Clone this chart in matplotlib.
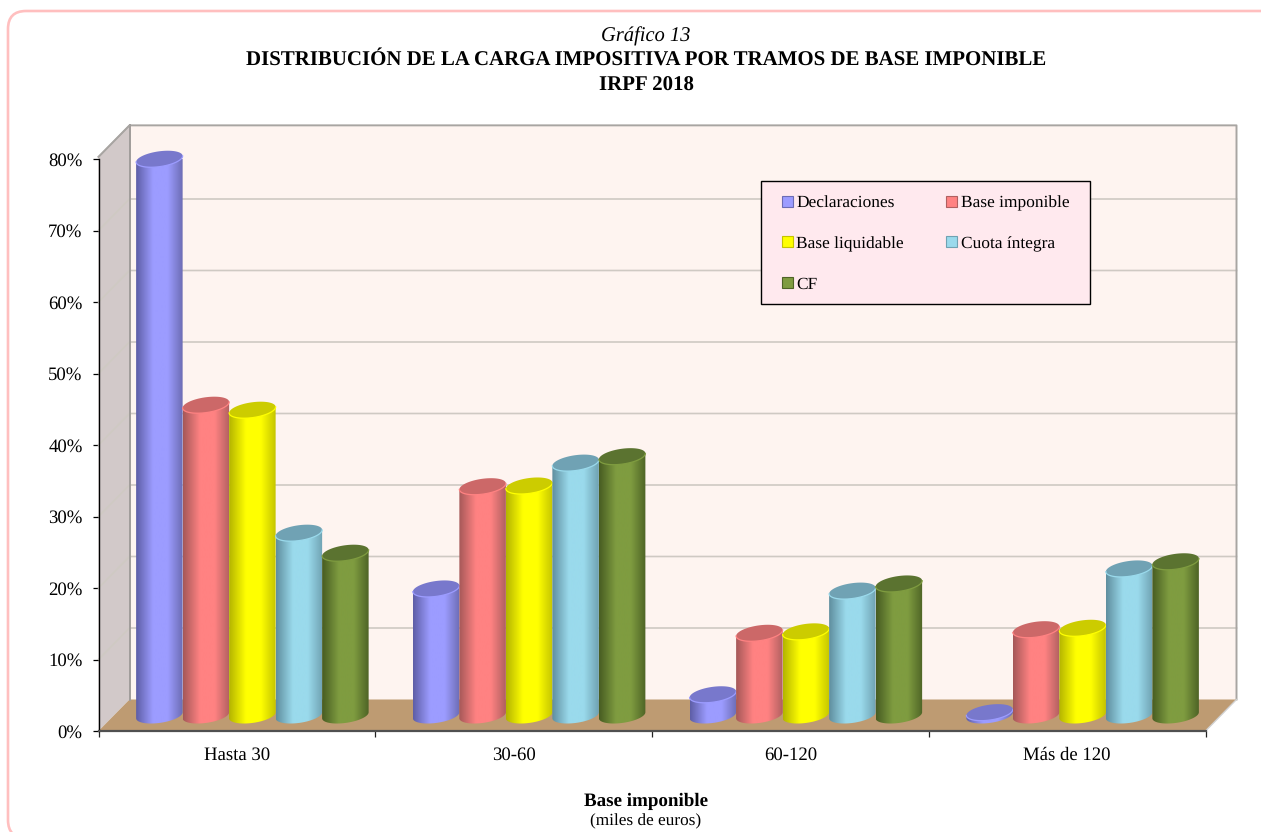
import matplotlib
matplotlib.use('Agg')
import matplotlib.pyplot as plt
import numpy as np
from matplotlib.colors import LinearSegmentedColormap
from matplotlib.patches import FancyBboxPatch, Patch, PathPatch, Polygon, Rectangle
from matplotlib.path import Path
from matplotlib.transforms import IdentityTransform

plt.rcParams['font.family'] = ['Liberation Serif', 'DejaVu Serif']
plt.rcParams['text.hinting'] = 'no_hinting'

# Datos
tramos = ['Hasta 30', '30-60', '60-120', 'Más de 120']
declaraciones = [77.8, 17.7, 2.9, 0.4]
base_imponible = [43.4, 32.0, 11.5, 12.0]
base_liquidable = [42.7, 32.1, 11.7, 12.2]
cuota_integra = [25.5, 35.3, 17.4, 20.5]
cf = [22.7, 36.2, 18.4, 21.5]
y_ticks = [0, 10, 20, 30, 40, 50, 60, 70, 80]
y_labels = ['0%', '10%', '20%', '30%', '40%', '50%', '60%', '70%', '80%']

series = [
    ('Declaraciones', declaraciones, '#5E5EA6', '#9C9CFF', '#6C6CB4', '#7878CC'),
    ('Base imponible', base_imponible, '#A55858', '#FF8282', '#B06060', '#CC6868'),
    ('Base liquidable', base_liquidable, '#B4B400', '#FFFF00', '#C4C400', '#CCCC00'),
    ('Cuota íntegra', cuota_integra, '#5F8E9E', '#9ADAEC', '#6FA2B2', '#70A2B4'),
    ('CF', cf, '#475C22', '#7F9C40', '#4E6426', '#5B7330'),
]

W, H = 1261, 832
fig = plt.figure(figsize=(W / 100, H / 100), dpi=100, facecolor='white')

# marco redondeado (se sale por la derecha y por abajo)
fig.add_artist(FancyBboxPatch((8, H - 838), 1280, 827, boxstyle='round,pad=0,rounding_size=18',
                              transform=IdentityTransform(), fc='none', ec='#FFBFBF', lw=1.9, zorder=-1))

# el eje coincide con el plano frontal del gráfico
x0, x1, y0, y1 = 98.5, 1205.5, 731.0, 159.0
ax = fig.add_axes([x0 / W, 1 - y0 / H, (x1 - x0) / W, (y0 - y1) / H])
ax.set_xlim(-0.5, 3.5)
ax.set_ylim(0, 80)
ax.patch.set_visible(False)

px_x = (x1 - x0) / 4
px_y = (y0 - y1) / 80
dx = 31 / px_x
dy = 31.5 / px_y
left, right, techo = -0.5, 3.5, 80.3

# paredes y suelo
ax.add_patch(Polygon([(left, 0), (left + dx, dy), (left + dx, techo + dy), (left, techo)],
                     fc='#D2C9C9', ec='none', clip_on=False, zorder=1))
ax.add_patch(Polygon([(left + dx, dy), (right + dx, dy), (right + dx, techo + dy), (left + dx, techo + dy)],
                     fc='#FEF4F0', ec='none', clip_on=False, zorder=1))
ax.add_patch(Polygon([(left, 0), (right, 0), (right + dx, dy), (left + dx, dy)],
                     fc='#BE9B72', ec='none', clip_on=False, zorder=1))
for v in y_ticks[1:-1]:
    ax.plot([left, left + dx, right + dx], [v, v + dy, v + dy], color='#CFC9C3', lw=1.2,
            clip_on=False, zorder=2)
ax.plot([left, left + dx, right + dx, right + dx], [techo, techo + dy, techo + dy, dy],
        color='#A8A5A2', lw=1.4, clip_on=False, zorder=2)
ax.plot([left + dx, left + dx], [dy, techo + dy], color='#A09C9A', lw=1.4, clip_on=False, zorder=2)
ax.plot([left, left + dx], [techo, techo + dy], color='#A8A5A2', lw=1.0, clip_on=False, zorder=2)
ax.plot([right, right + dx], [0, dy], color='#D0D0D0', lw=1.0, clip_on=False, zorder=2)

# cilindros
ancho = 46.5 / px_x
a = ancho / 2
b_px, k_px = 7.7, 3.0
base = dy / 2
t_low = np.linspace(np.pi, 2 * np.pi, 60)
t_full = np.linspace(0, 2 * np.pi, 120)


def elipse_y(yc, t):
    return yc + (b_px * np.sin(t) + k_px * np.cos(t)) / px_y


for s, (nombre, valores, oscuro, claro, oscuro2, tapa) in enumerate(series):
    cmap = LinearSegmentedColormap.from_list(nombre, [(0, oscuro), (0.36, claro), (0.68, claro), (1, oscuro2)])
    grad = np.linspace(0, 1, 128).reshape(1, -1)
    for i, v in enumerate(valores):
        xc = i + dx / 2 + (s - 2) * ancho
        yc = base + v
        xs = np.concatenate([xc + a * np.cos(t_low), [xc + a, xc - a, xc - a]])
        ys = np.concatenate([elipse_y(base, t_low), [elipse_y(yc, 0.0), elipse_y(yc, np.pi), elipse_y(base, np.pi)]])
        contorno = PathPatch(Path(np.column_stack([xs, ys])), fc='none', ec='none', transform=ax.transData)
        ax.add_patch(contorno)
        im = ax.imshow(grad, extent=[xc - a, xc + a, 0, 80], aspect='auto', cmap=cmap, zorder=3 + s * 0.1,
                       interpolation='bilinear')
        im.set_clip_path(contorno)
        ax.add_patch(Polygon(np.column_stack([xc + a * np.cos(t_full), elipse_y(yc, t_full)]), fc=tapa, ec='none',
                             clip_on=False, zorder=3.05 + s * 0.1))
        ax.plot(xc + a * np.cos(t_low), elipse_y(yc, t_low), color=claro, lw=0.9, clip_on=False,
                zorder=3.06 + s * 0.1)

ax.set_xlim(-0.5, 3.5)
ax.set_ylim(0, 80)

# ejes
for lado in ['top', 'right']:
    ax.spines[lado].set_visible(False)
ax.spines['left'].set_color('black')
ax.spines['bottom'].set_color('#505050')
ax.spines['left'].set_linewidth(1.0)
ax.spines['bottom'].set_linewidth(1.6)
ax.spines['left'].set_zorder(6)
ax.spines['bottom'].set_zorder(6)
ax.set_yticks(y_ticks)
ax.set_yticklabels(y_labels, fontsize=13.5)
ax.tick_params(axis='y', length=4.5, width=0.9, pad=7, colors='black')
ax.set_xticks(np.arange(-0.5, 4, 1))
ax.set_xticklabels([])
ax.tick_params(axis='x', which='major', length=4.5, width=0.9, color='#222222')
ax.set_xticks(range(4), minor=True)
ax.set_xticklabels(tramos, minor=True, fontsize=13.5)
ax.tick_params(axis='x', which='minor', length=0, pad=11)

# leyenda: el recuadro va aparte para fijar su tamaño
fig.add_artist(Rectangle((760.5, H - 303.5), 329.5, 122.5, transform=IdentityTransform(),
                         fc='#FFE9EE', ec='black', lw=1.0, zorder=5))
orden = [0, 2, 4, 1, 3]
handles = [Patch(fc=series[j][3], ec=series[j][4], lw=0.8, label=series[j][0]) for j in orden]
leg = fig.legend(handles=handles, ncol=2, loc='upper left', fontsize=12.5,
                 bbox_to_anchor=(782 / W, 1 - 195.5 / H), bbox_transform=fig.transFigure, frameon=False,
                 handlelength=0.62, handleheight=0.62, handletextpad=0.2, labelspacing=1.45,
                 columnspacing=2.45, borderpad=0, borderaxespad=0)
leg.set_zorder(10)

# textos
cx = 646 / W
fig.text(cx, 1 - 36 / H, 'Gráfico 13', ha='center', va='center', fontsize=14.8, style='italic')
fig.text(cx, 1 - 60 / H, 'DISTRIBUCIÓN DE LA CARGA IMPOSITIVA POR TRAMOS DE BASE IMPONIBLE', ha='center',
         va='center', fontsize=15, fontweight='bold')
fig.text(cx, 1 - 85.5 / H, 'IRPF 2018', ha='center', va='center', fontsize=15, fontweight='bold')
fig.text(cx, 1 - 801.5 / H, 'Base imponible', ha='center', va='center', fontsize=13.7, fontweight='bold')
fig.text(cx, 1 - 821 / H, '(miles de euros)', ha='center', va='center', fontsize=12.4)

fig.savefig('out.png', dpi=100)
